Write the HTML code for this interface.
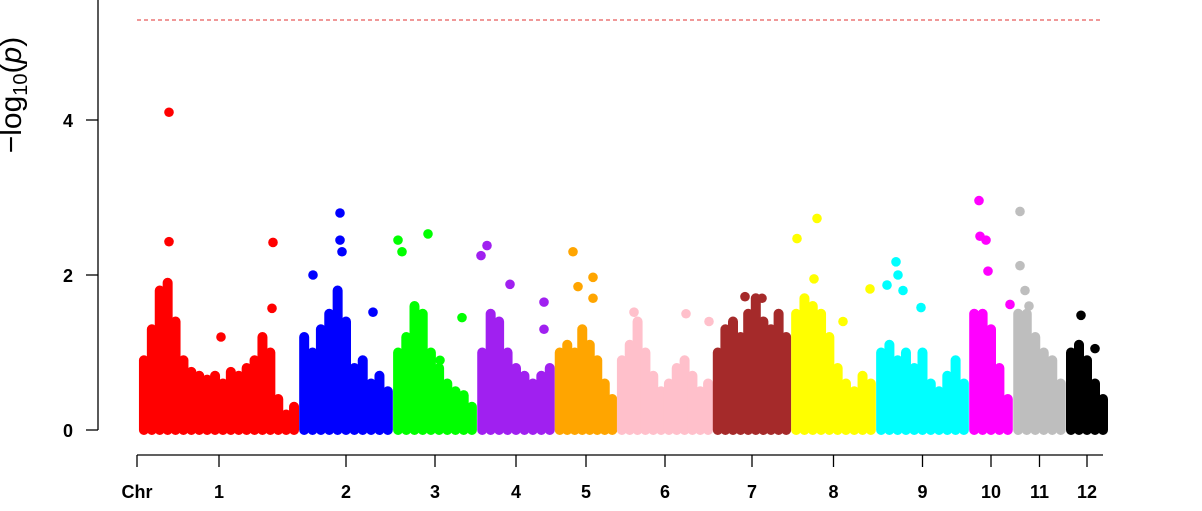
<!DOCTYPE html>
<html><head><meta charset="utf-8">
<style>
html,body{margin:0;padding:0;background:#fff;}
svg{display:block;font-family:"Liberation Sans",sans-serif;}
</style></head>
<body>
<svg id="chart" width="1202" height="511" viewBox="0 0 1202 511">
<text transform="translate(21,95) rotate(-90)" text-anchor="middle" font-size="30">−log<tspan font-size="20" dy="6">10</tspan><tspan dy="-6">(</tspan><tspan font-style="italic">p</tspan>)</text>
<g id="plot"></g>
</svg>
<script>
const chromNames = ["1","2","3","4","5","6","7","8","9","10","11","12"];
const chromLengths = [158,92,82,76,60,94,76,83,91,42,51,40];
const chromColors = ["#ff0000","#0000ff","#00ff00","#a020f0","#ffa500","#ffc0cb","#a52a2a","#ffff00","#00ffff","#ff00ff","#bebebe","#000000"];
const yTicks = [0,2,4];
const threshold = 5.29;
// binned maxima of the dense cloud per chromosome
const binMax1 = [0.9,1.3,1.8,1.9,1.4,0.9,0.75,0.7,0.65,0.7,0.6,0.75,0.7,0.8,0.9,1.2,1.0,0.4,0.2,0.3];
const binMax2 = [1.2,1.0,1.3,1.5,1.8,1.4,0.8,0.9,0.6,0.7,0.5];
const binMax3 = [1.0,1.2,1.6,1.5,1.0,0.8,0.6,0.5,0.45,0.3];
const binMax4 = [1.0,1.5,1.4,1.0,0.8,0.7,0.6,0.7,0.8];
const binMax5 = [1.0,1.1,1.0,1.3,1.1,0.9,0.6,0.4];
const binMax6 = [0.9,1.1,1.4,1.0,0.7,0.5,0.6,0.8,0.9,0.7,0.5,0.6];
const binMax7 = [1.0,1.3,1.4,1.2,1.5,1.7,1.4,1.3,1.5,1.2];
const binMax8 = [1.5,1.7,1.6,1.5,1.2,0.8,0.6,0.5,0.7,0.6];
const binMax9 = [1.0,1.1,0.9,1.0,0.8,1.0,0.6,0.5,0.7,0.9,0.6];
const binMax10 = [1.5,1.5,1.3,0.8,0.4];
const binMax11 = [1.5,1.5,1.2,1.0,0.9,0.6];
const binMax12 = [1.0,1.1,0.9,0.6,0.4];
const binMaxes = [binMax1,binMax2,binMax3,binMax4,binMax5,binMax6,binMax7,binMax8,binMax9,binMax10,binMax11,binMax12];
// outlier points: chromosome index, position within chromosome, -log10(p)
const outChrom = [0,0,0,0,0, 1,1,1,1,1, 2,2,2,2,2, 3,3,3,3,3, 4,4,4,4, 5,5,5, 6,6, 7,7,7,7,7, 8,8,8,8,8, 9,9,9,9,9, 10,10,10,10, 11,11];
const outPos   = [29,29,133,132,81, 40,40,42,73,13, 4,8,34,68,46, 3,9,32,66,66, 17,22,37,37, 16,68,91, 31,48, 5,25,22,51,78, 19,21,10,26,44, 9,10,16,18,40, 6,6,11,15, 14,28];
const outVal   = [4.1,2.43,2.42,1.57,1.2, 2.8,2.45,2.3,1.52,2.0, 2.45,2.3,2.53,1.45,0.9, 2.25,2.38,1.88,1.65,1.3, 2.3,1.85,1.97,1.7, 1.52,1.5,1.4, 1.72,1.7, 2.47,2.73,1.95,1.4,1.82, 2.17,2.0,1.87,1.8,1.58, 2.96,2.5,2.45,2.05,1.62, 2.82,2.12,1.8,1.6, 1.48,1.05];

const NS="http://www.w3.org/2000/svg";
const g=document.getElementById('plot');
const X0=140, GAP=2;
const starts=[]; {let s=X0; for(const L of chromLengths){starts.push(s); s+=L+GAP;}}
function xScale(ci,pos){return starts[ci]+pos;}
function yScale(v){return 430 - v*77.5;}
function mk(tag,attrs){const e=document.createElementNS(NS,tag);for(const k in attrs)e.setAttribute(k,attrs[k]);g.appendChild(e);return e;}

const ax=mk('line',{x1:98,y1:0,x2:98,y2:yScale(0),stroke:'#000','stroke-width':1.3});


yTicks.forEach(t=>{
  const tk=mk('line',{x1:86,y1:yScale(t),x2:98,y2:yScale(t),stroke:'#000','stroke-width':1.3});
  
  
  const tl=mk('text',{x:68,y:yScale(t)+7,'text-anchor':'middle','font-size':18,'font-weight':'bold'});
  tl.textContent=t;
  
  
});
const th=mk('line',{x1:137,y1:yScale(threshold),x2:1103,y2:yScale(threshold),stroke:'#e03030','stroke-width':1,'stroke-dasharray':'4,3'});


const xa=mk('line',{x1:137,y1:455,x2:1103,y2:455,stroke:'#000','stroke-width':1.3});


const t0=mk('line',{x1:137,y1:455,x2:137,y2:467,stroke:'#000','stroke-width':1.3});


const l0=mk('text',{x:137,y:498,'text-anchor':'middle','font-size':18,'font-weight':'bold'});
l0.textContent='Chr';


chromNames.forEach((n,ci)=>{
  const cx=xScale(ci,chromLengths[ci]/2);
  const tk=mk('line',{x1:cx,y1:455,x2:cx,y2:467,stroke:'#000','stroke-width':1.3});
  
  
  const tl=mk('text',{x:cx,y:498,'text-anchor':'middle','font-size':18,'font-weight':'bold'});
  tl.textContent=n;
  
  
});
binMaxes.forEach((bins,ci)=>{
  const n=bins.length, L=chromLengths[ci];
  bins.forEach((v,i)=>{
    const x=xScale(ci,(i+0.5)*L/n);
    const b=mk('line',{x1:x,y1:yScale(0),x2:x,y2:yScale(v),stroke:chromColors[ci],'stroke-width':10,'stroke-linecap':'round'});
    
    
  });
});
outVal.forEach((v,i)=>{
  const ci=outChrom[i];
  const c=mk('circle',{cx:xScale(ci,outPos[i]),cy:yScale(v),r:4.8,fill:chromColors[ci]});
  
  
});
</script>
</body></html>
